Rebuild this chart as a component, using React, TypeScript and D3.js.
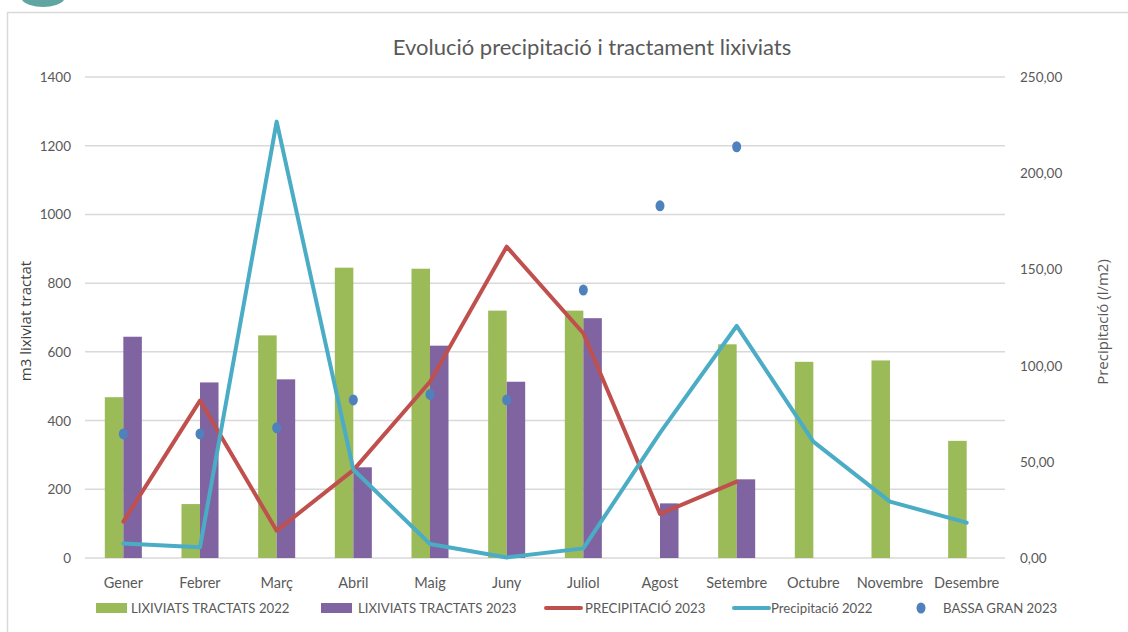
import React from 'react';
import * as d3 from 'd3';

const categories = ['Gener', 'Febrer', 'Març', 'Abril', 'Maig', 'Juny', 'Juliol', 'Agost', 'Setembre', 'Octubre', 'Novembre', 'Desembre'];
const lixiviats2022: (number | null)[] = [468, 157, 648, 845, 842, 720, 720, null, 622, 571, 575, 341];
const lixiviats2023: (number | null)[] = [644, 511, 520, 264, 618, 513, 698, 159, 229, null, null, null];
const precipitacio2023: (number | null)[] = [18.9, 81.8, 14.2, 45.7, 91.6, 161.8, 116.8, 22.9, 39.7, null, null, null];
const precipitacio2022: (number | null)[] = [7.6, 5.6, 226.8, 46, 7.3, 0.3, 5, 65, 120.6, 60.5, 29.3, 18.4];
const bassaGran2023: (number | null)[] = [361, 361, 379, 460, 476, 460, 780, 1025, 1197, null, null, null];
const leftTicks = [0, 200, 400, 600, 800, 1000, 1200, 1400];
const rightTicks = [0, 50, 100, 150, 200, 250];

const C_GREEN = '#9BBB59';
const C_PURPLE = '#8064A2';
const C_RED = '#C0504D';
const C_CYAN = '#4BACC6';
const C_BLUE = '#4F81BD';
const FONT = 'Lato, "Open Sans", sans-serif';

export default function App() {
  const left = 85, right = 1005, top = 77, bottom = 558;
  const x0 = d3.scaleBand<string>().domain(categories).range([left, right]).paddingInner(0.517).paddingOuter(0.2585);
  const x1 = d3.scaleBand<string>().domain(['a', 'b']).range([0, x0.bandwidth()]);
  const yL = d3.scaleLinear().domain([0, 1400]).range([bottom, top]);
  const yR = d3.scaleLinear().domain([0, 250]).range([bottom, top]);
  const cx = (c: string) => (x0(c) as number) + x0.bandwidth() / 2;

  const lineGen = d3.line<[string, number | null]>()
    .defined(d => d[1] !== null)
    .x(d => cx(d[0]))
    .y(d => yR(d[1] as number));

  const fmtR = (v: number) => v.toFixed(2).replace('.', ',');

  const legendItems = [
    { kind: 'rect', color: C_GREEN, label: 'LIXIVIATS TRACTATS 2022', sx: 96, tx: 131 },
    { kind: 'rect', color: C_PURPLE, label: 'LIXIVIATS TRACTATS 2023', sx: 321, tx: 358 },
    { kind: 'line', color: C_RED, label: 'PRECIPITACIÓ 2023', sx: 546, tx: 585 },
    { kind: 'line', color: C_CYAN, label: 'Precipitació 2022', sx: 734, tx: 771 },
    { kind: 'dot', color: C_BLUE, label: 'BASSA GRAN 2023', sx: 921, tx: 943 },
  ];

  return (
    <svg width={1128} height={632} style={{ position: 'absolute', left: 0, top: 0, background: '#fff' }} fontFamily={FONT}>
      <rect x={0} y={0} width={1128} height={632} fill="#fff" />
      {/* logo fragment */}
      <path d="M22,0 A22,10 0 0 0 64,0 Z" fill="#3a8f8c" opacity={0.8} />
      <rect x={7.5} y={12.5} width={1140} height={640} fill="none" stroke="#d9d9d9" strokeWidth={1.5} />

      <text x={592} y={55} textAnchor="middle" fontSize={22} fill="#595959">Evolució precipitació i tractament lixiviats</text>

      {leftTicks.map(t => (
        <g key={'g' + t}>
          <line x1={left} x2={right} y1={yL(t)} y2={yL(t)} stroke="#d9d9d9" strokeWidth={1.5} />
          <text x={71} y={yL(t) + 5} textAnchor="end" fontSize={13.5} fill="#595959">{t}</text>
        </g>
      ))}
      {rightTicks.map(t => (
        <text key={'r' + t} x={1020} y={yR(t) + 5} textAnchor="start" fontSize={13.5} fill="#595959">{fmtR(t)}</text>
      ))}

      <text transform="translate(31,321) rotate(-90)" textAnchor="middle" fontSize={15} fill="#404040" fontFamily='"Open Sans", sans-serif'>m3 lixiviat tractat</text>
      <text transform="translate(1108,322) rotate(-90)" textAnchor="middle" fontSize={15} fill="#595959" fontFamily='"Open Sans", sans-serif'>Precipitació (l/m2)</text>

      {categories.map((c, i) => (
        <g key={'b' + c}>
          {lixiviats2022[i] !== null && (
            <rect x={(x0(c) as number) + (x1('a') as number)} width={x1.bandwidth()} y={yL(lixiviats2022[i] as number)} height={bottom - yL(lixiviats2022[i] as number)} fill={C_GREEN} />
          )}
          {lixiviats2023[i] !== null && (
            <rect x={(x0(c) as number) + (x1('b') as number)} width={x1.bandwidth()} y={yL(lixiviats2023[i] as number)} height={bottom - yL(lixiviats2023[i] as number)} fill={C_PURPLE} />
          )}
          <text x={cx(c)} y={588} textAnchor="middle" fontSize={14.5} fill="#595959">{c}</text>
        </g>
      ))}

      <path d={lineGen(categories.map((c, i) => [c, precipitacio2023[i]] as [string, number | null])) || ''} fill="none" stroke={C_RED} strokeWidth={4} strokeLinejoin="round" strokeLinecap="round" />
      <path d={lineGen(categories.map((c, i) => [c, precipitacio2022[i]] as [string, number | null])) || ''} fill="none" stroke={C_CYAN} strokeWidth={4} strokeLinejoin="round" strokeLinecap="round" />

      {categories.map((c, i) => bassaGran2023[i] !== null && (
        <ellipse key={'d' + c} cx={cx(c)} cy={yL(bassaGran2023[i] as number)} rx={4.5} ry={5.5} fill={C_BLUE} />
      ))}

      {legendItems.map(it => (
        <g key={it.label}>
          {it.kind === 'rect' && <rect x={it.sx} y={603} width={31} height={10} fill={it.color} />}
          {it.kind === 'line' && <line x1={it.sx} x2={it.sx + 35} y1={608} y2={608} stroke={it.color} strokeWidth={4} strokeLinecap="round" />}
          {it.kind === 'dot' && <ellipse cx={it.sx} cy={608} rx={4.5} ry={5.5} fill={it.color} />}
          <text x={it.tx} y={613} fontSize={13.2} fill="#595959">{it.label}</text>
        </g>
      ))}
    </svg>
  );
}
